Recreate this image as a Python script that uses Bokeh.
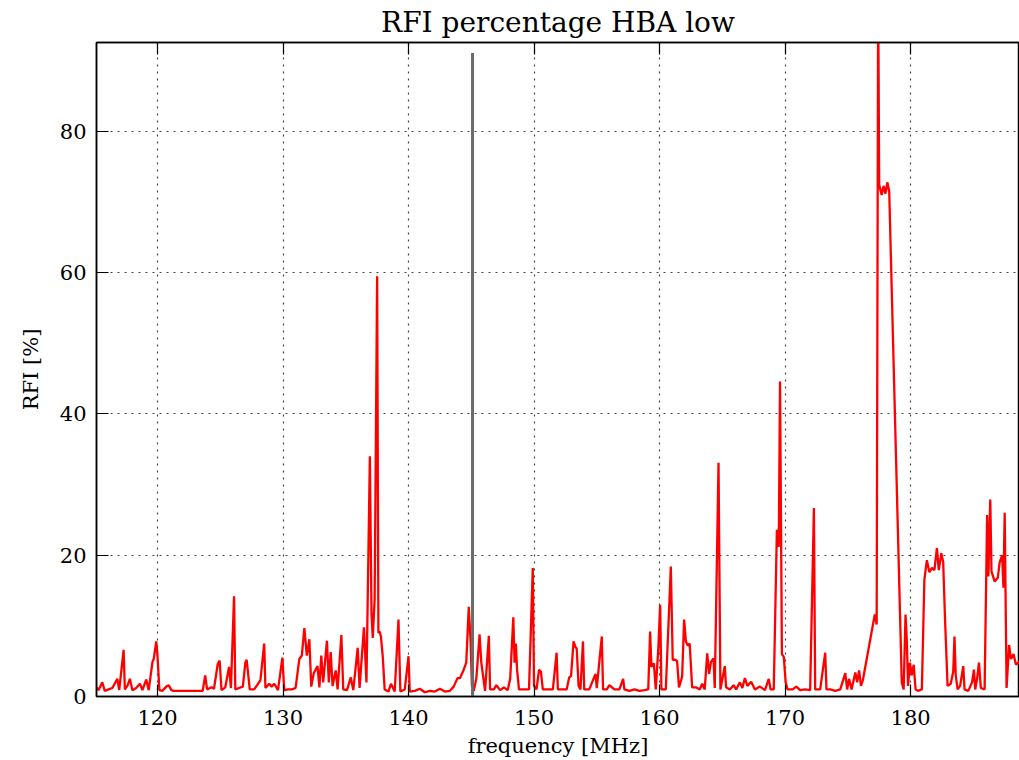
from bokeh.plotting import figure
from bokeh.models import LinearAxis, Range1d, FixedTicker, ColumnDataSource
from bokeh.embed import file_html
from bokeh.resources import INLINE

# ---- data ----
freq_mhz = [
    115.1, 115.3, 115.6, 115.8, 116.1, 116.4, 116.8, 116.95, 117.3, 117.4, 117.6, 117.8, 118.0, 118.3,
    118.6, 118.8, 119.1, 119.3, 119.6, 119.7, 119.9, 120.0, 120.15, 120.4, 120.7, 120.9, 121.1, 121.3,
    123.6, 123.8, 123.95, 124.3, 124.5, 124.8, 124.95, 125.1, 125.4, 125.7, 125.85, 126.1, 126.2, 126.5,
    126.8, 127.0, 127.1, 127.2, 127.35, 127.7, 127.9, 128.2, 128.5, 128.6, 128.9, 129.1, 129.3, 129.6,
    129.95, 130.1, 130.4, 130.7, 131.0, 131.3, 131.5, 131.7, 131.9, 132.1, 132.25, 132.45, 132.75, 132.9,
    133.05, 133.2, 133.5, 133.65, 133.8, 133.95, 134.2, 134.35, 134.65, 134.8, 135.1, 135.4, 135.6, 135.95,
    136.1, 136.45, 136.65, 136.92, 137.05, 137.15, 137.3, 137.5, 137.6, 137.7, 137.8, 137.95, 138.1, 138.4,
    138.6, 138.9, 139.2, 139.35, 139.7, 140.0, 140.1, 140.5, 140.9, 141.3, 141.7, 142.1, 142.5, 142.9,
    143.3, 143.6, 143.9, 144.1, 144.4, 144.6, 144.8, 144.95, 145.05, 145.2, 145.4, 145.5, 145.66, 145.8,
    145.95, 146.1, 146.4, 146.5, 146.8, 147.0, 147.3, 147.6, 147.9, 148.1, 148.35, 148.45, 148.55, 148.65,
    148.8, 149.2, 149.6, 149.9, 150.0, 150.2, 150.4, 150.55, 150.7, 151.0, 151.5, 151.8, 151.9, 152.3,
    152.6, 152.8, 152.95, 153.15, 153.3, 153.4, 153.55, 153.7, 153.9, 154.0, 154.4, 154.9, 155.0, 155.4,
    155.5, 155.8, 156.0, 156.4, 156.8, 157.1, 157.2, 157.6, 158.0, 158.4, 158.8, 159.1, 159.25, 159.35,
    159.55, 159.7, 159.9, 160.05, 160.15, 160.5, 160.9, 161.05, 161.25, 161.4, 161.55, 161.8, 161.96, 162.1,
    162.25, 162.4, 162.6, 162.9, 163.2, 163.4, 163.6, 163.8, 163.95, 164.1, 164.3, 164.4, 164.7, 164.85,
    165.2, 165.3, 165.6, 165.9, 166.1, 166.4, 166.6, 166.8, 167.0, 167.3, 167.6, 168.0, 168.4, 168.7,
    168.85, 169.1, 169.35, 169.5, 169.6, 169.75, 169.9, 170.05, 170.2, 170.6, 170.9, 171.2, 171.6, 172.0,
    172.3, 172.4, 172.8, 173.2, 173.3, 173.6, 174.0, 174.4, 174.8, 174.95, 175.1, 175.3, 175.6, 175.75,
    175.9, 176.05, 176.2, 177.15, 177.3, 177.42, 177.5, 177.7, 177.85, 178.0, 178.15, 178.3, 179.3, 179.45,
    179.6, 179.7, 179.8, 179.95, 180.1, 180.25, 180.4, 180.6, 180.9, 181.1, 181.3, 181.5, 181.7, 181.9,
    182.1, 182.25, 182.45, 182.6, 182.75, 182.95, 183.2, 183.4, 183.5, 183.6, 183.75, 183.95, 184.2, 184.3,
    184.6, 184.9, 185.05, 185.15, 185.3, 185.45, 185.6, 185.9, 186.1, 186.2, 186.35, 186.45, 186.7, 186.95,
    187.1, 187.3, 187.4, 187.5, 187.65, 187.85, 188.0, 188.2, 188.4, 188.7,
]
rfi_percent = [
    1.4, 0.9, 2.0, 0.8, 1.0, 1.2, 2.5, 0.9, 6.6, 1.0, 1.5, 2.5, 0.9, 1.2,
    1.8, 0.9, 2.4, 0.9, 4.9, 5.3, 7.8, 5.8, 0.9, 0.8, 1.4, 1.6, 0.9, 0.8,
    0.8, 3.0, 1.0, 1.3, 1.1, 4.6, 5.1, 0.9, 1.3, 4.2, 1.2, 14.2, 1.0, 1.2,
    1.4, 4.8, 5.2, 3.6, 1.0, 1.0, 1.5, 2.3, 7.5, 1.2, 1.8, 1.4, 1.8, 0.9,
    5.5, 0.9, 1.0, 1.0, 1.2, 5.3, 5.8, 9.7, 5.8, 8.1, 1.4, 3.3, 4.3, 1.3,
    5.8, 2.0, 7.9, 2.0, 6.3, 1.5, 3.7, 1.0, 8.7, 1.0, 0.9, 2.7, 0.9, 6.9,
    1.2, 9.8, 2.0, 34.0, 11.8, 8.3, 13.7, 59.5, 9.0, 9.2, 8.5, 5.6, 1.0, 0.7,
    1.8, 0.7, 10.9, 0.7, 1.0, 5.7, 0.7, 0.8, 1.1, 0.6, 0.8, 0.7, 1.1, 0.7,
    0.8, 1.4, 2.6, 2.6, 3.8, 4.8, 12.7, 7.7, 1.5, 0.8, 2.5, 4.8, 8.8, 4.8,
    2.8, 0.8, 8.6, 1.0, 1.0, 1.6, 0.9, 1.3, 0.9, 2.5, 11.2, 4.8, 7.5, 3.8,
    1.0, 1.0, 1.0, 18.2, 1.5, 1.0, 3.8, 3.5, 1.0, 1.0, 1.0, 6.2, 1.0, 1.0,
    1.0, 2.7, 2.9, 7.8, 7.0, 6.8, 1.5, 1.0, 7.8, 1.0, 1.0, 3.2, 1.2, 8.5,
    1.0, 1.0, 1.6, 1.0, 1.0, 2.5, 1.0, 0.8, 1.0, 0.8, 0.9, 1.0, 9.2, 4.2,
    4.7, 1.0, 6.7, 13.0, 1.0, 1.0, 18.4, 5.2, 5.2, 5.0, 1.3, 2.8, 10.9, 7.8,
    7.2, 7.5, 1.3, 1.3, 1.0, 1.8, 1.0, 6.1, 3.2, 4.9, 5.4, 1.2, 33.1, 1.0,
    4.3, 1.3, 1.0, 1.6, 1.0, 2.0, 1.2, 2.6, 1.5, 2.1, 1.0, 1.4, 0.9, 2.5,
    1.0, 1.0, 23.6, 21.2, 44.6, 6.0, 5.6, 2.0, 1.0, 1.0, 1.4, 0.9, 1.0, 0.9,
    26.7, 1.0, 1.0, 6.2, 1.0, 1.0, 0.8, 1.0, 3.3, 1.0, 2.5, 1.0, 3.4, 2.0,
    3.7, 1.5, 2.3, 11.6, 10.2, 100.0, 72.5, 71.0, 72.3, 71.2, 72.8, 71.5, 2.0, 1.0,
    11.6, 8.0, 1.5, 4.8, 3.0, 4.5, 1.0, 0.8, 1.0, 16.5, 19.3, 17.6, 18.2, 17.9,
    21.0, 17.9, 20.3, 19.0, 10.8, 1.5, 1.8, 3.5, 8.5, 3.0, 1.0, 1.5, 4.3, 1.0,
    0.8, 2.0, 3.8, 1.0, 2.5, 4.8, 1.2, 1.0, 25.7, 17.0, 27.9, 17.7, 16.3, 16.8,
    19.0, 20.0, 15.4, 26.0, 1.2, 7.3, 5.3, 6.0, 4.5, 5.0,
]

marker_freq = [145.1]
marker_bottom = [0.0]
marker_top = [91.1]

x_ticks = [120, 130, 140, 150, 160, 170, 180]
y_ticks = [0, 20, 40, 60, 80]

SERIF = "DejaVu Serif"

p = figure(
    width=1019, height=760,
    x_range=Range1d(115.14, 188.68), y_range=Range1d(0, 92.6),
    output_backend="svg", toolbar_location=None,
    min_border_left=96, min_border_right=0, min_border_top=8, min_border_bottom=40,
    x_axis_label="frequency [MHz]", y_axis_label="RFI [%]",
)
p.title.text = "RFI percentage HBA low"
p.title.align = "center"
p.title.text_font = SERIF
p.title.text_font_size = "28px"
p.title.text_font_style = "normal"
p.title.text_color = "black"
p.title.standoff = 7

p.outline_line_color = "black"
p.outline_line_width = 1.5

for ax in (p.xaxis[0], p.yaxis[0]):
    ax.axis_line_color = "black"
    ax.axis_line_width = 1.5
    ax.major_tick_in = 12
    ax.major_tick_out = 0
    ax.major_tick_line_color = "black"
    ax.major_tick_line_width = 1.2
    ax.minor_tick_line_color = None
    ax.major_label_text_font = SERIF
    ax.major_label_text_font_size = "21px"
    ax.major_label_text_color = "black"
    ax.axis_label_text_font = SERIF
    ax.axis_label_text_font_size = "21px"
    ax.axis_label_text_font_style = "normal"
    ax.axis_label_text_color = "black"

p.xaxis.ticker = FixedTicker(ticks=x_ticks)
p.yaxis.ticker = FixedTicker(ticks=y_ticks)
p.xaxis.major_label_standoff = 13
p.yaxis.major_label_standoff = 10
p.xaxis.axis_label_standoff = 6
p.yaxis.axis_label_standoff = 14

top_axis = LinearAxis(
    ticker=FixedTicker(ticks=x_ticks),
    major_label_overrides={t: "" for t in x_ticks},
    major_tick_in=12, major_tick_out=0,
    major_tick_line_color="black", major_tick_line_width=1.2,
    minor_tick_line_color=None,
    axis_line_color="black", axis_line_width=1.5,
    major_label_standoff=0,
)
p.add_layout(top_axis, "above")

p.xgrid.ticker = FixedTicker(ticks=x_ticks)
p.ygrid.ticker = FixedTicker(ticks=y_ticks)
for g in (p.xgrid[0], p.ygrid[0]):
    g.grid_line_color = "#333333"
    g.grid_line_dash = "2 5"
    g.grid_line_width = 1.2
    g.grid_line_alpha = 0.9

src = ColumnDataSource(dict(f=freq_mhz, v=rfi_percent))
p.line("f", "v", source=src, line_color="#ff0000", line_width=2.3)

p.segment(x0=marker_freq, y0=marker_bottom, x1=marker_freq, y1=marker_top,
          line_color="#6a6a6a", line_width=3)

open("out.html", "w").write(file_html(p, INLINE))
